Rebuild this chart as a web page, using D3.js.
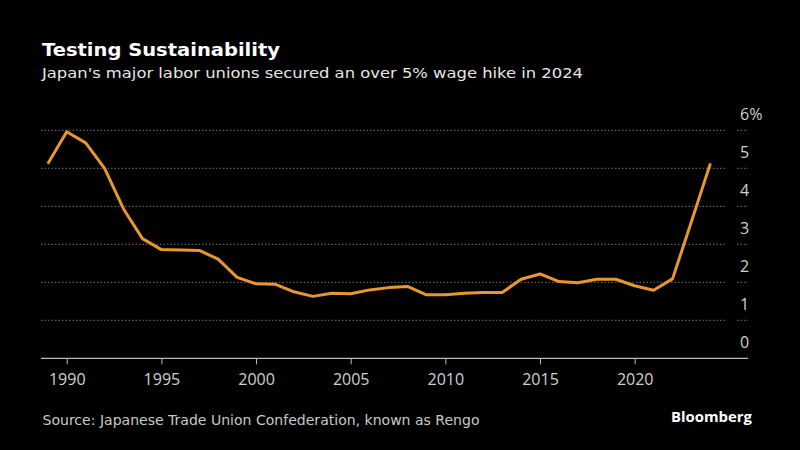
<!DOCTYPE html>
<html>
<head>
<meta charset="utf-8">
<script src="https://cdn.jsdelivr.net/npm/d3@7"></script>
<style>
  html, body { margin: 0; padding: 0; background: #000; }
  svg { display: block; }
</style>
</head>
<body>
<svg id="chart" width="800" height="450"></svg>
<script>
// ---- Data ----
const years = [1989,1990,1991,1992,1993,1994,1995,1996,1997,1998,1999,2000,2001,2002,2003,2004,2005,2006,2007,2008,2009,2010,2011,2012,2013,2014,2015,2016,2017,2018,2019,2020,2021,2022,2023,2024];
const wageHike = [5.12,5.96,5.67,5.00,3.93,3.15,2.86,2.85,2.84,2.61,2.13,1.96,1.95,1.75,1.63,1.71,1.70,1.80,1.86,1.89,1.67,1.67,1.71,1.73,1.73,2.08,2.22,2.02,1.99,2.08,2.08,1.91,1.79,2.09,3.60,5.13];
const xTicks = [1990,1995,2000,2005,2010,2015,2020];
const yTicks = [0,1,2,3,4,5,6];
const title = "Testing Sustainability";
const subtitle = "Japan's major labor unions secured an over 5% wage hike in 2024";
const source = "Source: Japanese Trade Union Confederation, known as Rengo";
const brand = "Bloomberg";

// ---- Drawing ----
const svg = d3.select("#chart");
svg.append("rect").attr("width", 800).attr("height", 450).attr("fill", "#000");

const x = d3.scaleLinear().domain([1989, 2024]).range([47.8, 710.4]);
const y = d3.scaleLinear().domain([0, 6]).range([358.3, 130.3]);

const plotLeft = 41, gridRight = 725, labelGridLeft = 737, axisRight = 748;

// gridlines
const grid = svg.append("g");
yTicks.filter(d => d > 0).forEach(t => {
  [[plotLeft, gridRight], [labelGridLeft, axisRight]].forEach(([a, b]) => {
    grid.append("line")
      .attr("x1", a).attr("x2", b)
      .attr("y1", y(t)).attr("y2", y(t))
      .attr("stroke", "#777").attr("stroke-width", 1)
      .attr("stroke-dasharray", "1.5,2");
  });
});

// y labels
svg.append("g").selectAll("text").data(yTicks).join("text")
  .attr("x", 740)
  .attr("y", d => y(d) - 10)
  .attr("fill", "#d0d0d0")
  .attr("font-family", "'Open Sans', sans-serif")
  .attr("font-size", 16)
  .text(d => d === 6 ? "6%" : d);

// x axis
const xAxis = d3.axisBottom(x).tickValues(xTicks).tickFormat(d3.format("d")).tickSize(6).tickPadding(6);
const gx = svg.append("g").attr("transform", `translate(0,${y(0)})`).call(xAxis);
gx.select(".domain").remove();
gx.selectAll(".tick line").attr("stroke", "#bbb");
gx.selectAll(".tick text")
  .attr("fill", "#d0d0d0")
  .attr("font-family", "'Open Sans', sans-serif")
  .attr("font-size", 16)
  .attr("dy", "0.95em");
svg.append("line")
  .attr("x1", plotLeft).attr("x2", axisRight)
  .attr("y1", y(0)).attr("y2", y(0))
  .attr("stroke", "#bbb").attr("stroke-width", 1.2);

// line
const line = d3.line().x((d, i) => x(years[i])).y(d => y(d));
svg.append("path")
  .datum(wageHike)
  .attr("d", line)
  .attr("fill", "none")
  .attr("stroke", "#e8962e")
  .attr("stroke-width", 3)
  .attr("stroke-linejoin", "round");

// texts
function fitText(sel, w) {
  sel.attr("textLength", w).attr("lengthAdjust", "spacingAndGlyphs");
}
svg.append("text").attr("x", 42).attr("y", 55.7)
  .attr("fill", "#fff").attr("font-family", "'DejaVu Sans', sans-serif")
  .attr("font-weight", "bold").attr("font-size", 17.5)
  .text(title).call(fitText, 238);
svg.append("text").attr("x", 42).attr("y", 78.3)
  .attr("fill", "#e6e6e6").attr("font-family", "'DejaVu Sans', sans-serif")
  .attr("font-size", 14.5)
  .text(subtitle).call(fitText, 541);
svg.append("text").attr("x", 42.5).attr("y", 425)
  .attr("fill", "#c8c8c8").attr("font-family", "'DejaVu Sans', sans-serif")
  .attr("font-size", 14.5)
  .text(source).call(fitText, 437);
svg.append("text").attr("x", 671).attr("y", 422.3)
  .attr("fill", "#fff").attr("font-family", "'Open Sans', sans-serif")
  .attr("font-weight", "bold").attr("font-size", 15)
  .text(brand).call(fitText, 81);
</script>
</body>
</html>
